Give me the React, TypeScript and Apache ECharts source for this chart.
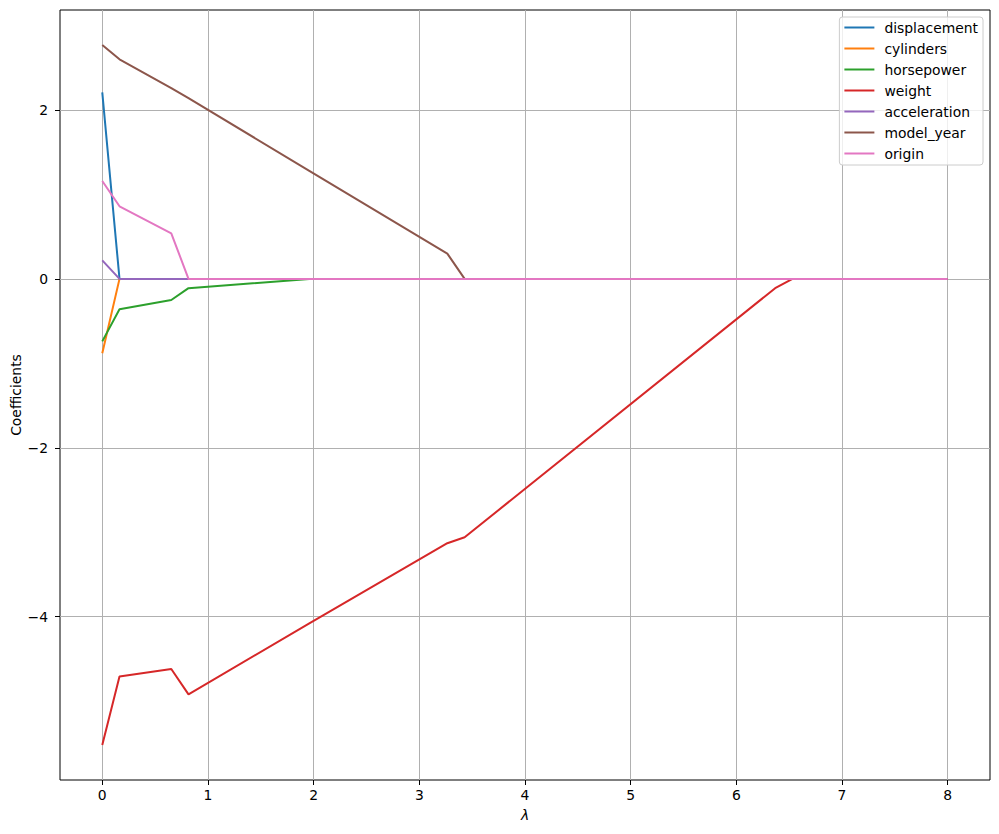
import React, { useEffect, useRef } from "react";
import * as echarts from "echarts";

const lambdas = [0, 0.163, 0.653, 0.816, 1.959, 3.265, 3.429, 6.367, 6.531, 8];
const displacement = [2.21, 0, 0, 0, 0, 0, 0, 0, 0, 0];
const cylinders = [-0.88, 0, 0, 0, 0, 0, 0, 0, 0, 0];
const horsepower = [-0.74, -0.36, -0.25, -0.11, 0, 0, 0, 0, 0, 0];
const weight = [-5.52, -4.71, -4.62, -4.92, -4.08, -3.13, -3.06, -0.11, 0, 0];
const acceleration = [0.22, 0, 0, 0, 0, 0, 0, 0, 0, 0];
const modelYear = [2.77, 2.6, 2.26, 2.14, 1.28, 0.3, 0, 0, 0, 0];
const origin = [1.16, 0.86, 0.54, 0, 0, 0, 0, 0, 0, 0];

const seriesNames = ["displacement", "cylinders", "horsepower", "weight", "acceleration", "model_year", "origin"];
const seriesValues = [displacement, cylinders, horsepower, weight, acceleration, modelYear, origin];
const colors = ["#1f77b4", "#ff7f0e", "#2ca02c", "#d62728", "#9467bd", "#8c564b", "#e377c2"];
const xTicks = [0, 1, 2, 3, 4, 5, 6, 7, 8];
const yTicks = [-4, -2, 0, 2];

const FONT = "DejaVu Sans";
const fmt = (v: number) => (v < 0 ? "\u2212" + Math.abs(v) : String(v));

export default function App() {
  const ref = useRef<HTMLDivElement>(null);
  useEffect(() => {
    if (!ref.current) return;
    const chart = echarts.init(ref.current, null, { renderer: "svg" });
    chart.setOption({
      animation: false,
      backgroundColor: "#ffffff",
      textStyle: { fontFamily: FONT },
      grid: {
        left: 60,
        top: 10,
        right: 9,
        bottom: 54,
        containLabel: false,
        outerBoundsMode: "none",
        show: true,
        borderColor: "#000000",
        borderWidth: 1,
        backgroundColor: "transparent",
      },
      legend: {
        orient: "vertical",
        right: 16,
        top: 17,
        icon: "rect",
        itemWidth: 30,
        itemHeight: 2,
        itemGap: 6,
        padding: [3, 5, 4, 5],
        backgroundColor: "rgba(255,255,255,0.8)",
        borderColor: "#cccccc",
        borderWidth: 1,
        borderRadius: 3,
        textStyle: { fontFamily: FONT, fontSize: 13.9, color: "#000", lineHeight: 15, padding: [0, 0, 0, 5] },
        data: seriesNames,
      },
      xAxis: {
        type: "value",
        min: -0.4,
        max: 8.4,
        name: "λ",
        nameLocation: "middle",
        nameGap: 28,
        nameMoveOverlap: false,
        nameTextStyle: { fontFamily: FONT, fontSize: 13.9, fontStyle: "italic", color: "#000" },
        axisLine: { show: false, onZero: false },
        axisTick: { show: true, customValues: xTicks, length: 5, lineStyle: { color: "#000", width: 1 } },
        axisLabel: {
          customValues: xTicks,
          formatter: fmt,
          margin: 8,
          fontFamily: FONT,
          fontSize: 13.9,
          color: "#000",
        },
        splitLine: { show: true, lineStyle: { color: "#b0b0b0", width: 1 } },
      },
      yAxis: {
        type: "value",
        min: -5.9345,
        max: 3.1845,
        name: "Coefficients",
        nameLocation: "middle",
        nameGap: 37,
        nameMoveOverlap: false,
        nameTextStyle: { fontFamily: FONT, fontSize: 13.9, color: "#000" },
        axisLine: { show: false, onZero: false },
        axisTick: { show: true, customValues: yTicks, length: 5, lineStyle: { color: "#000", width: 1 } },
        axisLabel: {
          customValues: yTicks,
          formatter: fmt,
          margin: 12,
          fontFamily: FONT,
          fontSize: 13.9,
          color: "#000",
        },
        splitLine: { show: true, lineStyle: { color: "#b0b0b0", width: 1 } },
      },
      series: seriesNames.map((name, i) => ({
        name,
        type: "line",
        symbol: "none",
        color: colors[i],
        lineStyle: { color: colors[i], width: 2 },
        data: lambdas.map((x, j) => [x, seriesValues[i][j]]),
      })),
    });
    return () => chart.dispose();
  }, []);
  return <div ref={ref} style={{ width: 999, height: 834, position: "absolute", left: 0, top: 0 }} />;
}
